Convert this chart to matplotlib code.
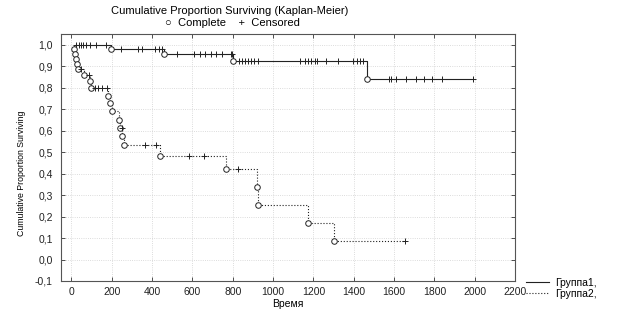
import numpy as np
import matplotlib
matplotlib.use("Agg")
import matplotlib.pyplot as plt
from matplotlib.lines import Line2D

plt.rcParams['font.family'] = ['Liberation Sans', 'DejaVu Sans']

# Group 1: events (time, survival after event) and censored times
g1_event_t = [198, 460, 803, 1465]
g1_event_s = [0.978, 0.955, 0.925, 0.840]
g1_start = 18
g1_end = 1993
g1_cens_t = [23, 37, 48, 60, 73, 90, 123, 173,
             248, 332, 350, 417, 433, 450,
             523, 607, 640, 665, 690, 715, 748, 790, 798,
             830, 845, 860, 875, 890, 905, 923,
             1132, 1157, 1175, 1190, 1207, 1220, 1265, 1323, 1398, 1415, 1432, 1448,
             1573, 1587, 1612, 1657, 1707, 1748, 1790, 1837, 1993]

# Group 2
g2_event_t = [12, 16, 23, 28, 33, 62, 90, 97, 183, 193, 200, 236, 243, 253, 260,
              440, 768, 922, 927, 1173, 1303]
g2_event_s = [0.980, 0.958, 0.934, 0.910, 0.886, 0.860, 0.829, 0.800, 0.763, 0.727,
              0.691, 0.650, 0.614, 0.573, 0.533, 0.480, 0.421, 0.337, 0.252, 0.168, 0.084]
g2_start = 12
g2_end = 1653
g2_cens_t = [48, 87, 116, 133, 150, 175, 250, 365, 420, 582, 660, 827, 1653]

x_ticks = np.arange(0, 2201, 200)
y_ticks = np.round(np.arange(-0.1, 1.01, 0.1), 1)


def step_curve(start, ev_t, ev_s, end):
    xs = [start]
    ys = [1.0]
    s = 1.0
    for t, v in zip(ev_t, ev_s):
        xs += [t, t]
        ys += [s, v]
        s = v
    xs.append(end)
    ys.append(s)
    return xs, ys


def level_at(t, ev_t, ev_s):
    s = 1.0
    for et, v in zip(ev_t, ev_s):
        if et <= t:
            s = v
    return s


fig = plt.figure(figsize=(6.22, 3.24), dpi=100)
ax = fig.add_axes([61.3 / 622, 1 - 281 / 324, (515 - 61.3) / 622, (281 - 34) / 324])

col = '#222222'
for st, et, es, en, cens, ls in [
    (g1_start, g1_event_t, g1_event_s, g1_end, g1_cens_t, '-'),
    (g2_start, g2_event_t, g2_event_s, g2_end, g2_cens_t, ':'),
]:
    xs, ys = step_curve(st, et, es, en)
    ax.plot(xs, ys, color=col, lw=0.8, ls=ls, zorder=2)
    ax.plot(et, es, 'o', ms=4, mfc='white', mec=col, mew=0.7, zorder=3)
    cy = [level_at(t, et, es) for t in cens]
    ax.plot(cens, cy, '+', ms=5, color=col, mew=0.7, zorder=3)

ax.set_xlim(-50, 2200)
ax.set_ylim(-0.1, 1.05)
ax.set_xticks(x_ticks)
ax.set_yticks(y_ticks)
ax.set_yticklabels([f"{v:.1f}".replace('.', ',').replace('-0,0', '0,0') for v in y_ticks])
ax.tick_params(direction='in', length=3, width=0.6, labelsize=7.5, top=True, right=True,
               colors='#333333', labelcolor='#222222')
ax.tick_params(axis='x', pad=4)
ax.tick_params(axis='y', pad=6)
ax.grid(True, ls=':', lw=0.6, color='#d0d0d0')
for sp in ax.spines.values():
    sp.set_linewidth(0.8)
    sp.set_color('#555555')

ax.set_xlabel("Время", fontsize=7.5, labelpad=2)
fig.text(22 / 622, 1 - 173 / 324, "Cumulative Proportion Surviving", rotation=90,
         ha='center', va='center', fontsize=6.3)

fig.text(230 / 622, 1 - 11 / 324, "Cumulative Proportion Surviving (Kaplan-Meier)",
         ha='center', va='center', fontsize=8)
fig.text(232 / 622, 1 - 23 / 324, "○  Complete    +  Censored",
         ha='center', va='center', fontsize=8)

handles = [Line2D([], [], color=col, lw=0.8, ls='-'),
           Line2D([], [], color=col, lw=0.8, ls=':')]
fig.legend(handles, ["Группа1,", "Группа2,"], loc='upper left',
           bbox_to_anchor=(526 / 622, 1 - 278 / 324), frameon=False, fontsize=7.5,
           handlelength=2.2, handletextpad=0.6, labelspacing=0.05, borderpad=0,
           borderaxespad=0)

fig.savefig("out.png", dpi=100)
